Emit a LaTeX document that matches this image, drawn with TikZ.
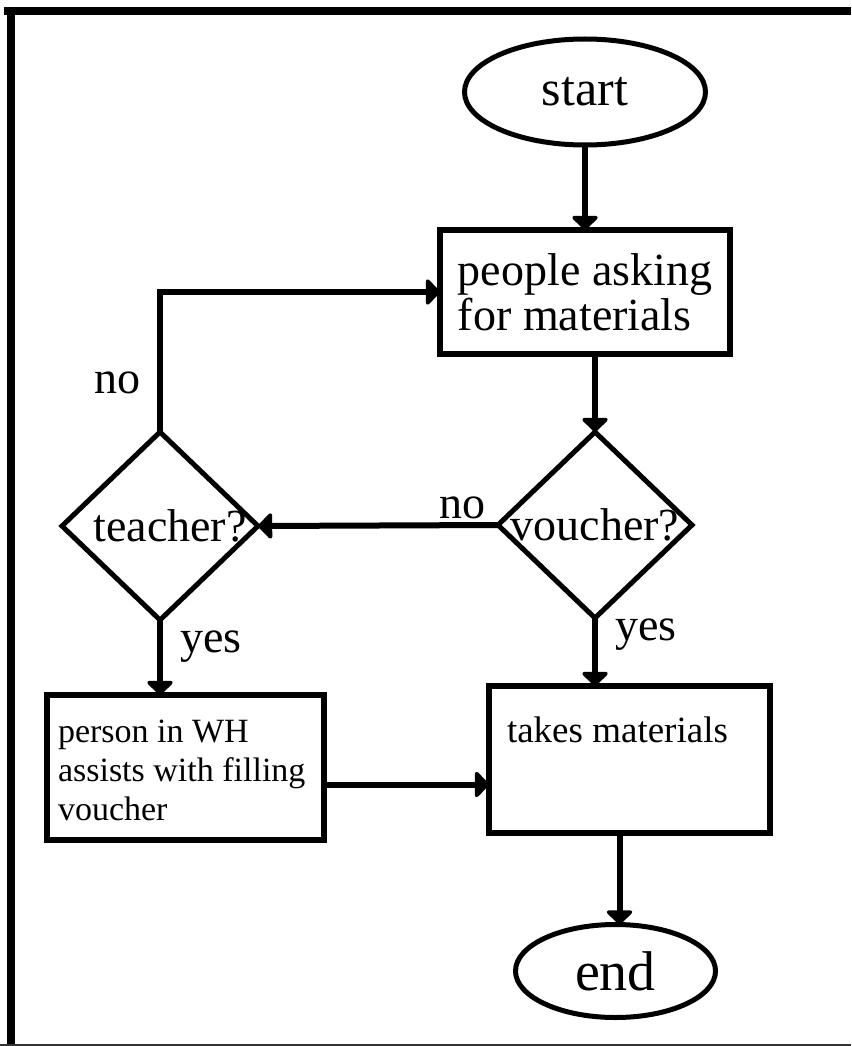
\documentclass[tikz,border=0pt]{standalone}
\usepackage{fontspec}
\setmainfont{Liberation Serif}
\usetikzlibrary{shapes.geometric,arrows.meta,calc}

\begin{document}
\begin{tikzpicture}[x=1pt,y=-1pt,
  every node/.style={inner sep=0pt, outer sep=0pt},
  term/.style={ellipse, draw, line width=5pt},
  proc/.style={rectangle, draw, line width=6pt},
  dec/.style={diamond, draw, line width=5pt},
  big/.style={font=\fontsize{46}{45}\selectfont},
  small/.style={font=\fontsize{34}{39}\selectfont},
  conn/.style={line width=6pt, -{Triangle[round,length=15pt,width=30pt]}},
]
\useasboundingbox (0,0) rectangle (851,1046);

% page frame
\fill (4,7) rectangle (851,15);
\fill (7,7) rectangle (15,1046);
\draw[line width=1.5pt, black!80] (0,1045) -- (851,1045);

% shapes
\node[term, font=\fontsize{50}{50}\selectfont, minimum width=241pt, minimum height=106pt] (start) at (585,92) {start};
\node[proc, big, align=left, minimum width=290pt, minimum height=124pt] (people) at (585,292)
  {people asking\\for materials};
\node[dec, minimum width=194pt, minimum height=186pt,
      label={[big]center:voucher?}] (voucher) at (595,525) {};
\node[dec, minimum width=196pt, minimum height=188pt,
      label={[big, xshift=10pt]center:teacher?}] (teacher) at (160,526) {};
\node[proc, minimum width=277pt, minimum height=145pt] (person) at (185.5,767.5) {};
\node[small, anchor=north west, align=left] (persontext) at ($(person.north west)+(11,25)$)
  {person in WH\\assists with filling\\voucher};
\node[proc, minimum width=281pt, minimum height=147pt] (takes) at (629.5,759.5) {};
\node[small, anchor=base west] (takestext) at ($(takes.north west)+(18,56)$) {\fontsize{37}{38}\selectfont takes materials};
\node[term, font=\fontsize{56}{56}\selectfont, minimum width=200pt, minimum height=93pt] (end) at (615.5,971) {end};

% connectors
\draw[conn] (start.south) -- (start.south |- people.north);
\draw[conn] (voucher.north |- people.south) -- (voucher.north);
\draw[conn] (voucher.west) -- (teacher.east);
\draw[conn] (teacher.north) |- (people.west);
\draw[conn] (teacher.south) -- (teacher.south |- person.north);
\draw[conn] (voucher.south) -- (voucher.south |- takes.north);
\draw[conn] ([yshift=-17pt]person.east) -- ([yshift=-17pt]person.east -| takes.west);
\draw[conn] ([xshift=-10pt]takes.south) -- ([xshift=-10pt]takes.south |- end.north);

% branch labels
\node[big, anchor=base] (noA) at (462,518) {no};
\node[big, anchor=base] (noB) at (117,393) {no};
\node[big, anchor=base] (yesA) at (211,652) {yes};
\node[big, anchor=base] (yesB) at (646,640) {yes};
\end{tikzpicture}
\end{document}
